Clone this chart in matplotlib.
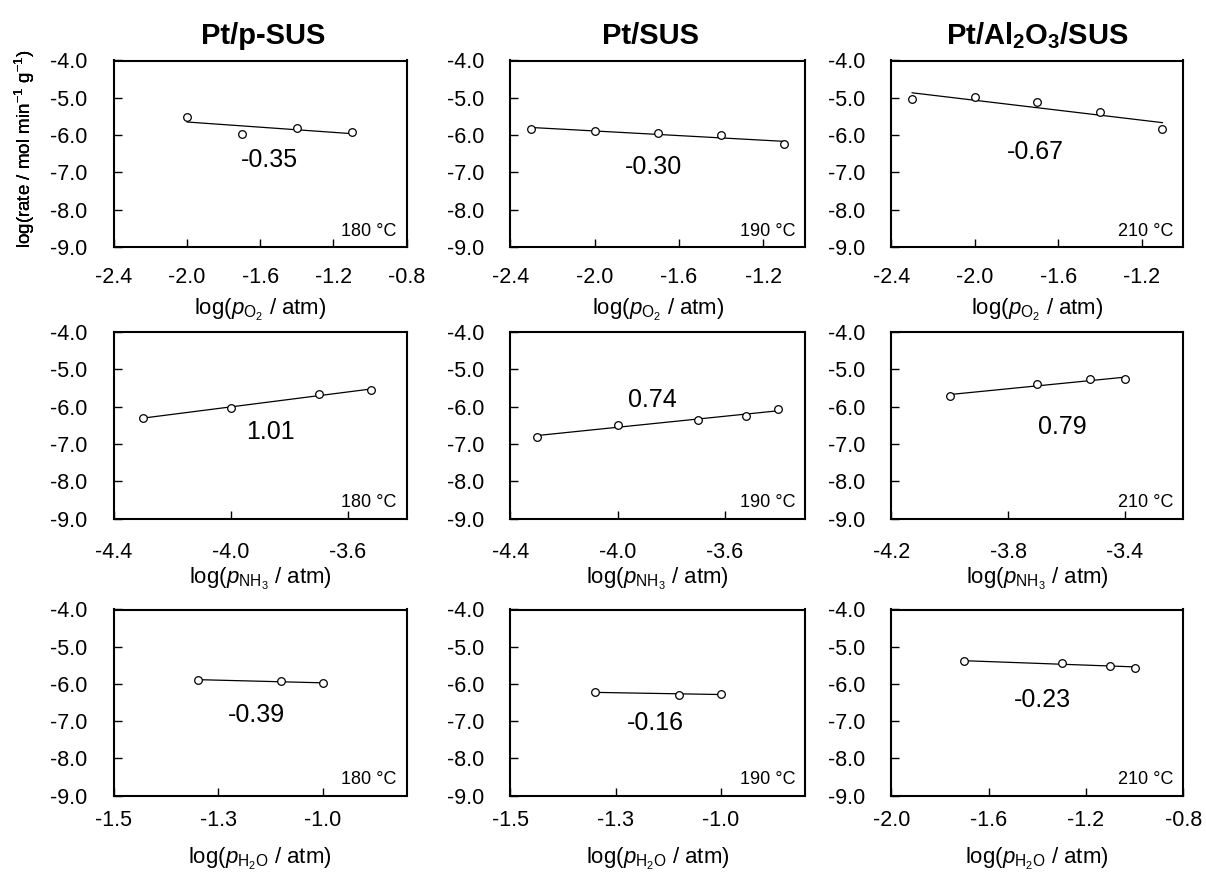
import numpy as np
import matplotlib
matplotlib.use("Agg")
import matplotlib.pyplot as plt

plt.rcParams['font.family'] = ['Liberation Sans', 'DejaVu Sans']
plt.rcParams['mathtext.fontset'] = 'custom'
plt.rcParams['mathtext.rm'] = 'Liberation Sans'
plt.rcParams['mathtext.it'] = 'Liberation Sans:italic'
plt.rcParams['mathtext.bf'] = 'Liberation Sans:bold'

# ---- data ----
titles = ["Pt/p-SUS", "Pt/SUS", r"Pt/Al$_\mathbf{2}$O$_\mathbf{3}$/SUS"]
temps = ["180 °C", "190 °C", "210 °C"]
slope_labels = [["-0.35", "-0.30", "-0.67"],
                ["1.01", "0.74", "0.79"],
                ["-0.39", "-0.16", "-0.23"]]

# O2 order row
o2_x_ppsus = [-2.0, -1.7, -1.4, -1.1]
o2_y_ppsus = [-5.52, -5.97, -5.81, -5.92]
o2_x_ptsus = [-2.3, -2.0, -1.7, -1.4, -1.1]
o2_y_ptsus = [-5.84, -5.88, -5.95, -5.99, -6.25]
o2_x_al = [-2.3, -2.0, -1.7, -1.4, -1.1]
o2_y_al = [-5.03, -4.99, -5.10, -5.37, -5.84]

# NH3 order row
nh3_x_ppsus = [-4.30, -4.00, -3.70, -3.52]
nh3_y_ppsus = [-6.30, -6.03, -5.66, -5.55]
nh3_x_ptsus = [-4.30, -4.00, -3.70, -3.52, -3.40]
nh3_y_ptsus = [-6.80, -6.48, -6.37, -6.25, -6.06]
nh3_x_al = [-4.00, -3.70, -3.52, -3.40]
nh3_y_al = [-5.71, -5.39, -5.26, -5.27]

# H2O order row
h2o_x_ppsus = [-1.30, -1.10, -1.00]
h2o_y_ppsus = [-5.89, -5.93, -5.98]
h2o_x_ptsus = [-1.30, -1.10, -1.00]
h2o_y_ptsus = [-6.22, -6.29, -6.27]
h2o_x_al = [-1.70, -1.30, -1.10, -1.00]
h2o_y_al = [-5.39, -5.44, -5.52, -5.56]

xs = [[o2_x_ppsus, o2_x_ptsus, o2_x_al],
      [nh3_x_ppsus, nh3_x_ptsus, nh3_x_al],
      [h2o_x_ppsus, h2o_x_ptsus, h2o_x_al]]
ys = [[o2_y_ppsus, o2_y_ptsus, o2_y_al],
      [nh3_y_ppsus, nh3_y_ptsus, nh3_y_al],
      [h2o_y_ppsus, h2o_y_ptsus, h2o_y_al]]

xlims = [[(-2.4, -0.8), (-2.4, -1.0), (-2.4, -1.0)],
         [(-4.4, -3.4), (-4.4, -3.3), (-4.2, -3.2)],
         [(-1.5, -0.8), (-1.5, -0.8), (-2.0, -0.8)]]
xticks = [[[-2.4, -2.0, -1.6, -1.2, -0.8], [-2.4, -2.0, -1.6, -1.2], [-2.4, -2.0, -1.6, -1.2]],
          [[-4.4, -4.0, -3.6], [-4.4, -4.0, -3.6], [-4.2, -3.8, -3.4]],
          [[-1.5, -1.25, -1.0], [-1.5, -1.25, -1.0], [-2.0, -1.6, -1.2, -0.8]]]
xticklabels = [[["-2.4", "-2.0", "-1.6", "-1.2", "-0.8"], ["-2.4", "-2.0", "-1.6", "-1.2"], ["-2.4", "-2.0", "-1.6", "-1.2"]],
               [["-4.4", "-4.0", "-3.6"], ["-4.4", "-4.0", "-3.6"], ["-4.2", "-3.8", "-3.4"]],
               [["-1.5", "-1.3", "-1.0"], ["-1.5", "-1.3", "-1.0"], ["-2.0", "-1.6", "-1.2", "-0.8"]]]
yticks = [-4.0, -5.0, -6.0, -7.0, -8.0, -9.0]
xlabels = [r"log($\mathit{p}_{\mathrm{O}_2}$ / atm)",
           r"log($\mathit{p}_{\mathrm{NH}_3}$ / atm)",
           r"log($\mathit{p}_{\mathrm{H}_2\mathrm{O}}$ / atm)"]
ylabel = r"log(rate / mol min$^{-1}$ g$^{-1}$)"

# label positions (data coords)
slope_pos = [[(-1.55, -6.67), (-1.72, -6.85), (-1.71, -6.44)],
             [(-3.865, -6.67), (-3.87, -5.81), (-3.615, -6.54)],
             [(-1.16, -6.84), (-1.155, -7.05), (-1.38, -6.42)]]

# ---- layout ----
W, H = 1206, 873
fig = plt.figure(figsize=(W / 100, H / 100), dpi=100)
col_x = [(114, 406.5), (510.3, 805.3), (891.3, 1183.3)]
row_y = [(60.5, 247), (332, 518.7), (609.5, 795.5)]
xtick_pad = [14.5, 16.5, 10.5]
xlabel_pad = [6, 2, 11]
title_x = [0.509, 0.476, 0.5]

for r in range(3):
    for c in range(3):
        x0, x1 = col_x[c]
        y0, y1 = row_y[r]
        ax = fig.add_axes([x0 / W, 1 - y1 / H, (x1 - x0) / W, (y1 - y0) / H])
        x = np.array(xs[r][c])
        y = np.array(ys[r][c])
        k, b = np.polyfit(x, y, 1)
        xf = np.array([x.min(), x.max()])
        ax.plot(xf, k * xf + b, color='black', lw=0.9, zorder=2)
        ax.plot(x, y, 'o', mfc='white', mec='black', ms=5.5, mew=0.9, zorder=3)
        ax.set_xlim(*xlims[r][c])
        ax.set_ylim(-9.0, -4.0)
        ax.set_xticks(xticks[r][c])
        ax.set_xticklabels(xticklabels[r][c])
        ax.set_yticks(yticks)
        ax.set_yticklabels([f"{v:.1f}" for v in yticks])
        ax.tick_params(axis='x', direction='in', length=6, width=1,
                       pad=xtick_pad[r], labelsize=15.5)
        ax.tick_params(axis='y', direction='in', length=6, width=1, pad=19, labelsize=15.5)
        for s in ax.spines.values():
            s.set_linewidth(1.5)
        ax.set_xlabel(xlabels[r], fontsize=16, labelpad=xlabel_pad[r])
        sx, sy = slope_pos[r][c]
        ax.text(sx, sy, slope_labels[r][c], fontsize=18, ha='center', va='center')
        ax.text(0.966, 0.06, temps[c], transform=ax.transAxes, fontsize=13,
                ha='right', va='baseline')
        if c == 0:
            ax.set_ylabel(ylabel, fontsize=13.5)
            ax.yaxis.set_label_coords((37 - x0) / (x1 - x0), (y1 - 149) / (y1 - y0))
        if r == 0:
            ax.set_title(titles[c], fontsize=21, fontweight='bold', pad=12,
                         x=title_x[c])

fig.savefig("out.png", dpi=100)
